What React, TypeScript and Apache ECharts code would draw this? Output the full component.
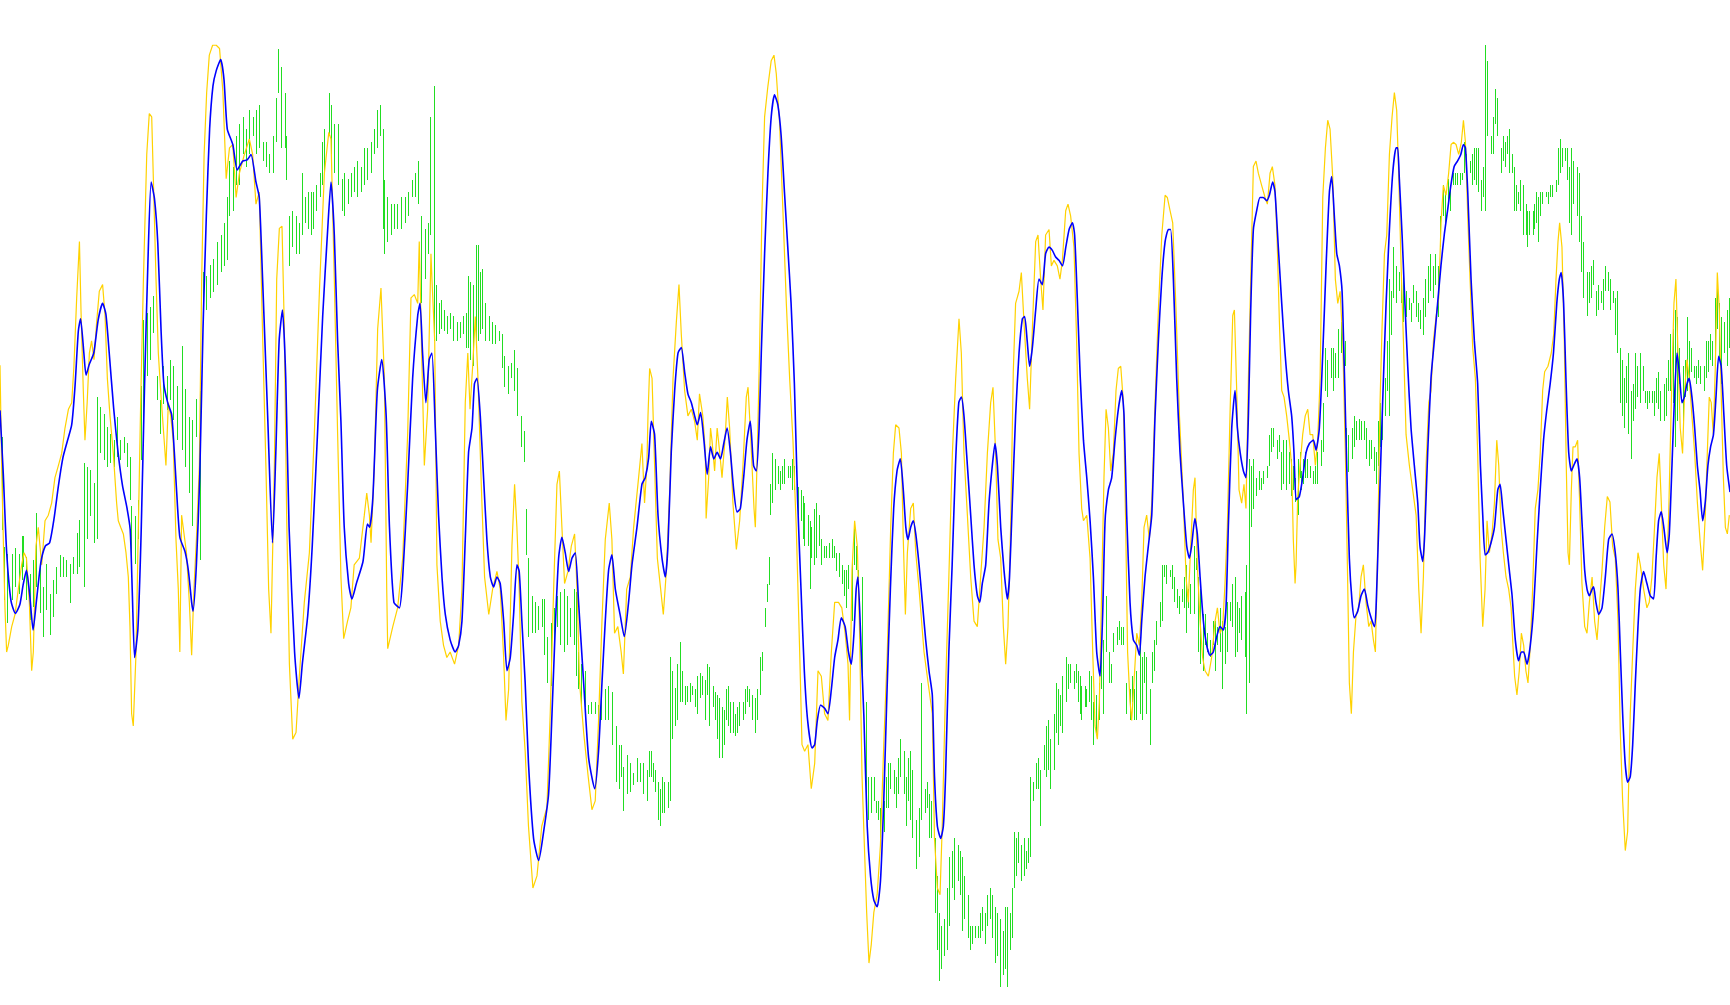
import React, { useEffect, useRef } from "react";
import * as echarts from "echarts";

// Time runs 0..1568 (bar units); value axis is a screen-depth scale 0..911 (inverted: smaller = higher).
const timeMax = 1568;
const valueMax = 911;

// Green high/low bars: [t, top, bottom]
const greenBars: number[][] = [
  [2,396,480],[4,496,544],[6,502,565],[11,502,544],[14,497,532],[17,502,538],[20,486,526],[21,486,514],[24,505,544],[27,520,562],[30,508,550],[33,465,532],[36,514,556],[39,532,577],[42,511,553],[45,538,576],[48,526,559],[51,514,538],[54,503,523],[57,505,523],[60,508,523],[63,511,547],[66,505,520],[70,483,520],[72,471,514],[76,420,532],[79,423,489],[82,426,468],[85,438,492],[88,360,489],[91,369,411],[94,375,417],[97,387,423],[100,393,420],[103,399,423],[106,378,414],[109,399,417],[112,396,411],[115,402,423],[118,414,453],[119,459,523],[122,468,511],[125,453,489],[128,350,417],[130,290,393],[133,284,341],[136,278,326],[139,268,302],[142,341,363],[145,363,393],[148,332,366],[151,341,372],[154,326,363],[157,332,381],[160,350,399],[165,314,408],[168,353,423],[171,378,447],[174,381,477],[178,362,396],[181,354,508],[184,247,290],[187,250,281],[190,240,270],[193,235,265],
  [197,219,258],[200,213,247],[203,202,241],[206,179,236],[208,146,196],[211,151,191],[214,123,168],[217,112,168],[220,106,140],[223,117,151],[226,100,140],[229,106,123],[232,100,140],[235,95,134],[238,129,146],[241,129,151],[244,140,157],[247,123,157],[250,89,129],[252,44,84],[255,61,134],[258,84,134],[259,123,163],[262,196,241],[265,191,224],[268,196,230],[271,202,230],[274,157,213],[276,179,202],[279,174,208],[282,174,213],[284,174,208],[286,168,191],[290,157,179],[292,129,168],[294,117,157],[298,84,123],[300,95,140],[303,112,157],[306,112,168],[310,162,191],[312,157,196],[315,162,185],[318,157,179],[321,151,174],[324,146,179],[327,151,174],[330,134,168],[333,134,163],[336,129,157],[339,117,140],[342,100,134],[344,95,123],[347,117,208],[348,163,230],[351,179,219],[354,185,213],[357,185,208],[360,185,208],[363,179,208],[367,179,202],[370,174,196],[373,163,179],[376,157,179],[379,146,185],[382,196,275],[385,208,253],[388,202,230],[390,106,213],
  [393,78,309],[395,258,309],[398,275,303],[400,272,298],[402,281,300],[405,286,303],[408,284,298],[411,286,309],[414,292,309],[417,292,306],[420,286,303],[422,284,315],[424,250,315],[426,256,326],[429,258,332],[431,222,315],[433,222,309],[435,247,303],[437,244,298],[440,275,309],[443,286,309],[446,292,312],[449,295,312],[452,300,309],[455,303,334],[457,323,351],[460,332,357],[463,329,343],[466,317,354],[469,334,377],[472,377,405],[475,391,419],[477,461,503],[479,506,577],[482,540,574],[485,546,574],[488,549,571],[491,543,568],[493,543,594],[496,577,619],[499,565,622],[502,551,591],[505,540,568],[508,537,585],[511,534,591],[514,540,585],[517,551,577],[520,534,585],[522,537,613],[524,591,625],[527,602,639],[530,608,641],[533,639,647],[536,636,647],[539,636,647],[542,639,656],[545,630,653],[548,625,653],[551,622,653],[555,627,675],[558,658,709],[561,675,715],[563,675,704],[565,695,735],[568,684,720],[571,692,718],[574,701,712],[577,687,709],[580,692,709],[583,692,720],[586,698,726],
  [588,681,704],[590,681,704],[592,692,709],[594,698,718],[596,709,743],[598,715,749],[600,704,737],[602,709,737],[605,709,732],[607,596,726],[609,608,670],[612,624,658],[614,602,653],[616,582,636],[618,608,636],[621,622,639],[623,622,636],[625,619,636],[627,622,630],[630,625,641],[632,613,647],[634,610,633],[636,613,630],[639,616,653],[641,602,630],[643,605,658],[646,622,641],[648,627,653],[650,630,670],[652,633,687],[654,641,687],[656,644,675],[658,625,653],[660,622,658],[662,636,664],[664,636,664],[666,647,667],[668,641,664],[670,636,658],[673,636,653],[675,625,647],[677,622,636],[679,625,641],[682,630,653],[684,633,664],[686,625,653],[689,596,630],[691,591,608],[693,551,568],[695,529,546],[697,505,530],[698,439,467],[700,411,456],[702,416,444],[705,422,439],[707,427,444],[709,422,439],[711,416,439],[714,422,433],[716,422,433],[718,416,444],[720,422,444],[723,441,467],[726,444,472],[728,450,489],[729,456,495],[732,467,495],[734,472,534],[735,478,506],[738,461,512],[740,456,506],[742,467,495],[744,489,512],[747,495,506],[749,495,506],[751,492,506],[754,489,506],[756,495,506],[758,501,518],[760,501,523],[763,512,529],[765,517,540],[767,517,551],[769,512,534],[772,506,563],[774,472,512],[776,495,517],[778,517,534],[781,523,625],
  [785,636,720],[787,704,743],[789,704,737],[792,704,726],[794,726,737],[796,726,743],[798,732,760],[801,726,754],[803,704,732],[805,692,732],[807,692,715],[810,698,720],[812,704,732],[814,687,720],[816,670,704],[819,681,720],[821,704,749],[823,687,726],[825,681,743],[827,698,760],[830,743,788],[833,732,777],[835,619,743],[838,715,737],[840,709,732],[842,720,760],[844,726,760],[847,760,828],[849,794,861],[851,828,889],[853,839,878],[856,833,867],[858,805,861],[860,777,839],[863,771,805],[865,760,816],[868,766,799],[870,771,811],[872,777,844],[874,794,833],[877,811,850],[879,839,861],[881,839,856],[884,839,850],[886,839,850],[888,828,850],[890,822,844],[893,828,856],[895,811,839],[897,805,833],[899,811,850],[902,822,873],[904,828,867],[906,833,895],[909,844,884],[911,822,878],[913,822,895],[915,828,861],[917,805,850],[919,754,805],[921,760,794],[923,754,782],[925,766,799],[928,760,794],[930,771,788],[932,760,782],[934,704,777],[936,709,726],[939,692,715],[941,687,715],[943,698,749],[946,675,698],[948,658,704],[950,653,698],[952,670,715],[955,647,698],[957,619,664],[959,625,675],[961,630,658],[963,613,664],[966,596,636],[968,602,625],[970,602,619],[973,608,625],[975,602,619],[977,608,636],[979,613,647],
  [980,622,653],[983,622,641],[984,625,641],[987,608,636],[989,613,653],[991,636,675],[993,630,664],[996,619,653],[998,591,625],[1000,580,647],[1002,540,591],[1005,591,619],[1007,602,619],[1009,574,591],[1012,568,585],[1014,563,580],[1016,568,585],[1018,568,585],[1021,619,647],[1024,625,653],[1026,613,636],[1028,625,653],[1030,608,653],[1033,580,647],[1035,596,653],[1037,591,619],[1039,596,647],[1042,625,675],[1044,591,619],[1046,580,608],[1048,563,585],[1051,546,568],[1053,512,563],[1055,512,523],[1057,512,529],[1060,517,523],[1062,512,534],[1064,523,546],[1067,534,551],[1069,540,557],[1071,534,546],[1073,523,551],[1075,512,574],[1077,534,551],[1079,529,557],[1082,495,557],[1084,506,517],[1086,523,591],[1088,534,602],[1090,557,608],[1092,557,585],[1094,574,591],[1097,580,596],[1099,563,585],[1101,563,608],[1103,568,585],[1106,551,591],[1108,563,625],[1110,568,602],[1112,546,591],[1115,546,563],[1117,529,568],[1119,523,596],[1121,546,591],[1123,551,574],[1125,540,580],[1128,537,596],[1129,512,647],[1132,416,619],[1134,422,478],[1136,416,461],[1138,433,450],[1141,427,444],[1143,433,444],[1145,427,439],[1148,422,433],[1150,394,422],[1152,388,410],[1154,388,405],[1157,399,416],[1159,394,410],[1161,410,444],[1163,399,439],[1166,399,444],[1168,410,439],[1170,416,450],[1172,422,444],[1174,433,455],
  [1176,416,467],[1178,410,433],[1179,427,444],[1181,416,439],[1183,410,433],[1185,416,433],[1187,422,433],[1190,427,439],[1192,422,439],[1194,410,439],[1197,399,422],[1199,365,410],[1201,315,354],[1203,326,360],[1206,315,343],[1208,315,354],[1210,320,343],[1213,298,343],[1215,292,320],[1217,298,332],[1219,309,332],[1220,388,422],[1222,394,428],[1225,388,416],[1227,377,405],[1229,382,399],[1232,380,399],[1234,382,399],[1236,382,399],[1238,388,416],[1241,399,422],[1243,399,416],[1245,405,427],[1247,410,439],[1249,382,422],[1251,365,405],[1253,360,399],[1255,343,377],[1257,309,354],[1259,253,377],[1261,264,304],[1263,224,270],[1265,241,275],[1268,247,264],[1270,253,275],[1272,241,292],[1274,264,287],[1277,270,281],[1279,275,292],[1281,258,275],[1283,264,287],[1285,275,292],[1287,281,298],[1290,270,304],[1292,253,287],[1294,241,275],[1296,230,264],[1299,241,270],[1301,230,258],[1303,241,287],[1305,196,224],[1308,168,196],[1310,174,202],[1312,162,185],[1314,168,191],[1317,157,168],[1319,157,168],[1321,157,168],[1323,157,168],[1325,157,163],[1327,129,157],[1329,140,163],[1332,146,157],[1334,140,168],[1336,134,163],[1338,134,168],[1340,134,174],[1342,163,191],[1344,151,179],[1346,41,191],[1348,55,123],[1351,123,140],[1353,106,140],[1355,81,112],[1357,89,123],[1360,134,157],[1362,123,146],[1364,129,151],[1366,123,140],[1368,117,157],[1370,140,157],
  [1372,151,191],[1374,168,191],[1376,174,185],[1378,163,191],[1380,168,213],[1383,185,213],[1384,191,224],[1386,191,213],[1389,191,213],[1390,185,208],[1392,174,202],[1394,179,219],[1396,174,196],[1398,174,185],[1401,174,179],[1403,174,185],[1405,168,179],[1407,168,179],[1410,163,174],[1412,134,168],[1414,126,157],[1416,134,151],[1418,134,146],[1420,134,163],[1422,151,202],[1424,134,213],[1426,146,185],[1429,151,196],[1431,157,219],[1433,196,247],[1435,219,270],[1438,247,286],[1440,247,275],[1442,241,270],[1444,236,258],[1447,264,286],[1448,258,281],[1451,264,275],[1453,253,281],[1455,241,264],[1457,247,264],[1459,253,281],[1462,264,275],[1464,270,304],[1466,264,320],[1468,315,365],[1470,326,377],[1472,343,388],[1474,332,365],[1476,320,393],[1478,354,416],[1480,348,382],[1482,320,371],[1484,332,360],[1486,320,365],[1489,332,354],[1491,354,365],[1493,354,371],[1495,354,365],[1497,354,365],[1499,354,377],[1501,343,365],[1503,337,371],[1505,354,382],[1508,348,382],[1510,343,377],[1512,326,354],[1514,303,354],[1516,298,365],[1518,281,405],[1520,287,382],[1522,315,348],[1525,332,382],[1527,326,360],[1529,287,354],[1531,309,343],[1533,315,337],[1535,332,343],[1537,332,348],[1539,326,343],[1541,332,348],[1544,332,354],[1546,309,343],[1548,309,337],[1550,303,326],[1552,309,332],[1554,270,332],[1556,253,298],[1558,275,326],[1560,287,348],[1563,292,320],[1565,281,332],[1567,270,315]
];

// Gold (fast) line: [t, value]
const goldLine: number[][] = [
  [0,331],[1.5,422],[3,489],[4.5,551],[6,591],[7.5,585],[10.6,568],[13.6,557],[16.6,534],[19.6,512],[21.8,501],[24,506],[26.6,546],[28.7,608],[30.2,591],[32.6,495],[34.7,478],[37.8,512],[40.8,472],[43.8,467],[46.8,456],[49.8,433],[52.9,422],[55.9,411],[58.9,388],[62,371],[65,365],[67,332],[69.5,270],[72,219],[73.4,281],[75.5,354],[77,399],[79,365],[81,320],[83,309],[85.2,326],[87.6,292],[90,264],[93,258],[95.2,286],[97.3,343],[99.7,377],[102.7,411],[105.7,456],[107.2,472],[109.4,478],[111.8,484],[114.2,501],[116.3,523],[117.8,568],[119.3,647],[120.8,658],[123.3,591],[125.4,478],[127.5,365],[130,253],[133,140],[135.3,103],[137.5,106],[139.6,185],[141.4,253],[143.5,320],[145.6,354],[148,388],[150.4,422],[152.6,365],[154.7,377],[157,399],[159.5,489],[161.6,534],[163,591],[164.6,467],[166.8,484],[169,501],[171.6,546],[173.7,594],[175.8,534],[178,489],[180.7,422],[182.8,253],[185,140],[187.3,84],[189.7,50],[192.7,41],
  [196,41],[199,44],[202,83],[205,162],[208,134],[211,131],[214,179],[217,157],[221.5,140],[226,126],[229,140],[232,185],[235,174],[238,303],[241,422],[243.5,534],[245.6,574],[248.7,422],[250.8,253],[253.2,207],[255.6,205],[257.7,298],[259.8,467],[262.3,602],[265.3,670],[268.3,664],[271.3,613],[275.8,546],[280.4,501],[284.9,393],[289.5,264],[294,157],[298,120],[300,126],[303,253],[306,393],[309,523],[311.5,579],[315,563],[318,551],[321,512],[325.7,506],[330.2,467],[332.4,447],[334.8,467],[336.3,492],[339.3,422],[342.3,298],[345.3,261],[348.4,343],[350.5,534],[351.4,588],[356,568],[360.4,551],[365,506],[369.5,393],[372.5,270],[375.5,267],[378.6,275],[380,219],[382.2,320],[384.6,422],[387.6,371],[390.6,230],
  [391.5,253],[394,309],[396,512],[399,563],[402,585],[405,596],[408,591],[412,602],[415.7,585],[418.7,534],[421.7,365],[424,320],[426,371],[428.4,332],[430.8,287],[433.2,343],[436.2,439],[439.2,523],[443,557],[446.5,534],[450.4,518],[453.4,534],[456.5,596],[458.6,653],[461,625],[464,495],[466.4,439],[468.5,478],[470.6,534],[473,636],[476,681],[479,749],[483,805],[486.7,794],[491,749],[495.7,732],[498.7,647],[501.8,534],[504.8,439],[507,427],[509.3,478],[511.7,529],[514.8,518],[517.8,495],[520.8,484],[523,534],[525.3,619],[529,664],[533,703],[536.5,734],[539.5,726],[542.5,653],[545.6,563],[548.6,489],[552.2,456],[554.6,489],[557,574],[560,568],[563,591],[565,611],[568,534],[571.3,523],[574.3,478],[578.8,433],[581.8,402],[584.2,456],[586.3,422],
  [587.3,377],[588.8,334],[591,343],[593.3,422],[595.8,506],[598.8,534],[601.2,557],[604,517],[607,444],[610,343],[613,292],[615.4,258],[617.5,303],[620.5,354],[623.5,377],[626.6,371],[629.6,382],[632,399],[634,357],[637,377],[639.3,410],[640,470],[642.3,433],[644,388],[645.3,399],[647.7,427],[650,388],[652.3,410],[654.4,433],[657.4,394],[659.2,360],[661.3,388],[664.3,456],[667.4,498],[670.4,472],[673.4,422],[676.4,360],[678,351],[680.3,394],[683.4,461],[684.6,478],[686.4,410],[688.5,315],[690.6,191],[693,106],[696,78],[699,55],[701.5,50],[703.6,67],[706.6,112],[709.6,191],[712.7,275],[715.7,343],[718.7,399],[721.7,478],[724.8,591],[726.9,675],[729.3,681],[732.3,675],[735.3,715],[738.4,692],[741.4,608],[744.4,613],[747.4,647],[750.4,653],[753.5,591],[756.5,546],[760,546],[763,551],[766,574],[768.6,602],[770,653],[772.2,517],[774.6,472],[777,495],[779,568],[781.3,703],
  [783,754],[785.5,827],[787.6,873],[789.7,856],[792,827],[795,811],[798,766],[801,675],[804.2,591],[807.3,478],[809.7,411],[811.8,385],[814.8,388],[817,411],[818.7,489],[820.6,557],[822.4,501],[825.4,461],[827.8,456],[830,501],[833,534],[837.5,591],[842,625],[845,647],[847,760],[849.6,805],[852,811],[854,749],[857,625],[860,523],[863.2,411],[866.2,343],[869.2,289],[871.3,320],[873.7,411],[876.8,467],[879.8,523],[882.8,563],[885.8,568],[888.8,523],[891.9,478],[894.9,411],[897.9,365],[900,351],[902.4,411],[904.5,489],[907,506],[909.4,568],[911.5,602],[913.6,568],[916,478],[918.4,337],[920.5,275],[923.6,264],[925.7,247],[928.1,292],[931.1,343],[933.2,371],[935.7,298],[938.7,219],[940.8,213],[943.2,253],[945.3,281],[947.7,213],[950.8,208],[952.9,241],[955.3,236],[958.3,241],[960.7,253],[962.9,236],[965.9,191],[968,185],[970.4,196],[973.4,224],[975.8,309],[978,411],
  [980.4,461],[982,472],[985,467],[988,506],[990.4,591],[992.5,658],[994.6,670],[996.4,636],[998.5,534],[1000.6,433],[1002.5,371],[1004.6,388],[1006.7,427],[1009.1,410],[1011.5,354],[1013.6,334],[1015.8,332],[1018.2,365],[1020.3,478],[1022,591],[1024.2,636],[1025.7,653],[1027.8,619],[1030.3,574],[1032.7,585],[1034.8,546],[1036.9,478],[1039.3,467],[1041.7,489],[1043.9,456],[1046.9,365],[1049.9,281],[1053,213],[1056,177],[1058,179],[1060.5,191],[1062.9,202],[1065.9,281],[1069,377],[1072.6,456],[1075,523],[1077,546],[1079.2,495],[1081.6,444],[1083.1,433],[1085.2,512],[1087.7,563],[1090,596],[1092.2,608],[1095.2,613],[1098.2,596],[1101.3,563],[1103.4,551],[1105.8,574],[1108.2,568],[1110.3,529],[1112.4,478],[1114.8,377],[1117.3,286],[1118.8,281],[1120.9,354],[1123,444],[1125.4,456],[1127.5,439],[1129.3,461],[1131.5,343],[1133.6,253],[1136,151],[1138.4,146],[1140.5,157],[1143.5,168],[1146.6,179],[1148.7,185],[1151.1,157],[1153.2,151],[1155.6,168],[1157.7,224],[1159.6,292],[1161.7,354],[1163.8,360],[1166.2,377],[1168.6,399],[1170.7,422],[1172.2,489],[1173.8,529],
  [1174.7,512],[1176.2,450],[1178.3,422],[1180.7,394],[1183,377],[1185.3,371],[1187.4,394],[1189.8,394],[1192.2,422],[1194.3,399],[1196.5,343],[1198.9,179],[1201.3,134],[1203.4,109],[1205.5,117],[1208,162],[1210.3,253],[1212.5,275],[1214.6,264],[1217,309],[1219.4,411],[1221.5,529],[1223,619],[1224.8,647],[1226.7,591],[1229.1,557],[1231.5,551],[1233.6,523],[1235.7,512],[1238.1,546],[1240.6,568],[1242.7,563],[1244.8,580],[1246.6,591],[1248.7,495],[1250.8,365],[1252.6,298],[1254.8,230],[1256.9,213],[1259.3,140],[1261.7,106],[1263.8,84],[1265.9,100],[1267.7,157],[1269.9,241],[1272,309],[1274.4,394],[1277.4,422],[1280.4,444],[1283.5,467],[1285.9,534],[1288,574],[1290.1,523],[1292.5,422],[1295,365],[1297,354],[1299.2,309],[1301.6,287],[1304,270],[1306.1,202],[1308.2,168],[1310.6,177],[1313,157],[1315.2,131],[1317.3,129],[1319.7,131],[1322.1,140],[1324.5,129],[1326.4,109],[1328.2,129],[1330.3,196],[1332.4,253],[1334.8,315],[1337.2,343],[1339.3,411],[1341.5,506],[1343.9,568],[1346,534],[1347.8,472],[1349.9,501],[1352.3,484],[1354.5,456],[1356.6,399],[1358.4,422],[1360.5,478],[1362.6,501],[1365,523],[1367.4,534],[1369.6,551],
  [1371,580],[1372.8,613],[1374.9,630],[1377,608],[1378.9,574],[1381,585],[1383,608],[1384.9,619],[1387,585],[1389.1,534],[1391.5,461],[1393.9,444],[1396,411],[1398.2,354],[1400,337],[1403,332],[1406,320],[1408.2,303],[1410.3,253],[1412.1,219],[1413.6,202],[1415.7,224],[1417.8,309],[1419.6,422],[1421.2,501],[1422.4,512],[1424.2,444],[1425.7,405],[1427.8,405],[1429.9,399],[1431.7,455],[1433.8,529],[1436.3,568],[1438.4,574],[1440.5,546],[1443,523],[1445.3,563],[1447.5,580],[1449.5,551],[1452,517],[1454.4,478],[1456.8,450],[1459.2,455],[1461.6,495],[1464,506],[1466.5,563],[1468.6,664],[1470.7,726],[1473.1,771],[1475.2,754],[1477.6,647],[1479.8,591],[1482.2,534],[1484.6,501],[1486.7,512],[1489.7,534],[1492.7,551],[1494.8,546],[1497.2,523],[1499.6,478],[1501.8,433],[1503.9,411],[1505.7,455],[1507.9,512],[1510,534],[1512.4,467],[1514.8,365],[1517.2,275],[1519,253],[1520.8,320],[1522.9,388],[1525,411],[1526.9,354],[1529,326],[1531.1,343],[1533.5,377],[1536,411],[1538.4,455],[1540.8,489],[1543.2,517],[1545.6,467],[1547.4,411],[1549.2,360],[1551,365],[1552.9,394],[1554.7,332],[1556.5,247],[1558.3,281],[1560.1,360],[1562,433],[1563.8,478],[1565.6,484],[1567.4,467]
];

// Blue (slow, smooth) line: [t, value]
const blueLine: number[][] = [
  [0,372],[3,430],[6,500],[10,545],[14,556],[18,548],[21,530],[24,517],[27,540],[30,571],[33,545],[37,510],[41,495],[45,492],[49,470],[53,440],[57,415],[61,400],[65,385],[68,350],[71,300],[73,289],[76,320],[78,340],[81,330],[85,320],[89,290],[93,275],[96,285],[99,320],[103,370],[107,410],[111,440],[115,460],[118,480],[120,540],[122,596],[125,570],[128,480],[131,350],[134,240],[137,165],[140,180],[143,220],[146,300],[148.5,348],[152,365],[155.6,376],[158,410],[160,444],[163,487],[167.7,500],[170.7,517],[173.7,546],[175,554],[178,512],[181,433],[184,298],[187,196],[190,117],[193,78],[196,64],
  [200,54],[203,72],[206,117],[211,131],[215,154],[220,146],[224,145],[227.5,140],[232,165],[235,179],[238,253],[242.6,377],[247,492],[250,410],[253,309],[256,281],[259,343],[262,478],[267,591],[271,633],[274,602],[279,557],[283,495],[288,388],[292.5,286],[297,208],[300,165],[303,213],[306,309],[309,382],[312,478],[316,529],[319,543],[323,529],[329,509],[333,475],[335,478],[338,450],[342,354],[346,326],[350,377],[353,478],[357,546],[362,551],[365,523],[369.5,439],[374,343],[378.6,286],[380.7,275],[383,320],[386,365],[389,326],[391.5,320],
  [394.5,388],[397.5,467],[400.6,523],[403.6,557],[408,580],[412.6,591],[415.7,585],[418.7,563],[421.7,489],[424.7,410],[427.8,388],[430,348],[432.3,343],[435.3,377],[438.3,433],[441.3,489],[444.4,523],[447.4,532],[450.4,523],[453.4,529],[456.5,563],[459.5,608],[462.5,596],[465.5,557],[468.5,512],[470.6,518],[473,563],[476,619],[479,692],[483.6,760],[488.2,780],[492.7,754],[497.2,720],[500.3,647],[503.3,568],[506.3,506],[509.3,487],[512.3,501],[515.4,518],[518.4,506],[521.4,501],[524.4,546],[529,619],[533.5,687],[539,715],[542.5,681],[545.6,619],[548.6,563],[551.6,517],[554.6,503],[557.7,534],[562,557],[565.8,577],[569.7,546],[572.8,512],[577.3,478],[581.8,439],[584.8,433],[587.9,415],
  [590.3,382],[593.3,394],[596.4,467],[600,506],[603,523],[605.4,495],[608.4,410],[611.5,354],[614.5,320],[617.5,315],[620.5,337],[623.5,357],[626.6,365],[629.6,377],[632,385],[635,374],[638,399],[641,430],[644,405],[647,416],[650,410],[653,416],[656,402],[659,388],[662,410],[665,444],[668,464],[671,461],[674,433],[677,399],[680,382],[683,422],[685.5,427],[688,388],[690,320],[693,230],[696,157],[699,106],[702,86],[705,95],[708,123],[711,174],[714,224],[717,275],[720,348],[723,456],[726,534],[729,608],[732,653],[736,678],[738.4,675],[740.8,653],[743.8,639],[747.4,642],[750.4,647],[753.5,625],[756.5,596],[759.5,580],[762.5,560],[766,568],[769,591],[771.6,602],[774,574],[776,534],[777.6,523],[780.6,591],[783,650],
  [786,749],[789,794],[792,816],[795,822],[798,799],[801,726],[804,625],[807,534],[810,461],[813,427],[816,416],[818.7,444],[821,478],[823,489],[825.4,478],[827.8,472],[830,484],[833,512],[836,546],[839,580],[842,608],[845,630],[847,704],[849.6,749],[852.6,760],[855,749],[857,704],[860,591],[863,512],[866,422],[869,365],[871.3,360],[873.7,377],[876.8,422],[879.8,467],[882.8,512],[885.8,540],[888,546],[890.3,529],[893.4,512],[896.4,456],[899.4,422],[901.8,402],[904,422],[907,478],[910,517],[913,543],[915,523],[917.5,456],[920.5,377],[923.6,320],[926.6,289],[928.7,287],[931,309],[933.2,332],[935.7,315],[938.7,281],[941.7,253],[944.7,258],[947.7,230],[950.8,224],[953.8,227],[956.8,233],[959.8,236],[963,241],[966,224],[969,208],[972,202],[974,213],[976.4,270],[979,340],
  [982,399],[985,433],[988,472],[991,523],[994,591],[997,613],[999.4,557],[1001.6,472],[1004.6,444],[1007.6,433],[1010.6,399],[1013.6,371],[1016.7,354],[1018.8,377],[1021.2,467],[1024.2,546],[1027.2,580],[1030.3,585],[1032.7,594],[1034.8,563],[1037.8,523],[1040.8,495],[1043.9,467],[1046.9,377],[1049.9,309],[1053,253],[1056,219],[1059,208],[1061,208],[1063.5,253],[1066.5,343],[1069.5,410],[1072.6,456],[1075.6,495],[1078,506],[1080,495],[1083,470],[1085.2,484],[1087.7,523],[1090.7,563],[1093.7,585],[1096.7,594],[1099.7,591],[1102.8,577],[1105.8,568],[1108.8,571],[1111.2,551],[1113.3,478],[1116.4,388],[1119.4,354],[1121.5,388],[1124,410],[1127,427],[1129.3,433],[1131.5,377],[1133.6,281],[1136,208],[1139,191],[1142,179],[1145,179],[1148,182],[1150.5,177],[1153.5,165],[1155.6,174],[1158.6,224],[1161.7,275],[1164.7,320],[1167.7,354],[1170.7,377],[1172.8,410],[1174.7,453],
  [1177.7,450],[1180.7,433],[1183.8,410],[1186.8,402],[1190.4,399],[1192.8,408],[1195.8,388],[1198.9,320],[1201.9,241],[1204.9,174],[1207,160],[1209.4,196],[1211.6,230],[1214,241],[1216.4,264],[1218.5,337],[1220.6,422],[1223,506],[1225.5,546],[1227.6,560],[1230.6,554],[1233.6,540],[1236.6,534],[1239.7,549],[1242.7,560],[1245.7,568],[1247.2,551],[1249.6,478],[1251.7,410],[1253.9,343],[1256.3,275],[1259.3,208],[1262.3,157],[1265.3,134],[1266.8,134],[1268.3,162],[1270.8,213],[1272.9,264],[1275.9,332],[1278.9,388],[1281.9,422],[1285,456],[1287,495],[1289.5,509],[1291.3,484],[1294,410],[1297,343],[1300,309],[1303,275],[1306,241],[1309,213],[1312,191],[1315,168],[1318,151],[1321,146],[1324,140],[1326.4,131],[1328.2,134],[1330.3,174],[1333.3,253],[1336.3,309],[1339.3,348],[1341.8,422],[1343.9,467],[1346,503],[1348.4,501],[1351.4,492],[1354.5,478],[1357.5,444],[1359.6,439],[1362,461],[1365,489],[1368,517],[1370.5,540],
  [1373.4,580],[1376.4,599],[1378.9,591],[1381,591],[1384,602],[1387,585],[1390,551],[1393,495],[1396,444],[1399,399],[1402,371],[1405,348],[1408,320],[1411,275],[1413.3,253],[1415,247],[1417.2,275],[1419.3,343],[1421.8,410],[1424.2,427],[1426.3,422],[1429.3,416],[1431.7,433],[1433.8,472],[1436.3,517],[1438.4,534],[1440.5,540],[1443,534],[1444.4,532],[1446.5,546],[1449,557],[1452,551],[1455,523],[1458,489],[1461,484],[1464,501],[1466.5,534],[1468.6,591],[1470.7,647],[1473,692],[1475.2,709],[1477.6,704],[1479.8,675],[1482.2,619],[1484.6,568],[1486.7,534],[1489.7,518],[1492.7,529],[1495.7,540],[1498.8,543],[1501,506],[1503.3,472],[1505.7,464],[1508,478],[1511,501],[1513,484],[1515.4,422],[1517.5,365],[1520,320],[1522,337],[1524.5,365],[1526.6,360],[1529,348],[1531,343],[1533.5,360],[1536,388],[1538.4,422],[1540.8,444],[1543.2,472],[1545.6,455],[1548,422],[1550.4,405],[1553,394],[1555.3,360],[1557.7,323],[1560,332],[1562.5,377],[1565,422],[1568,446]
];

const GREEN = "#22dd22";
const GOLD = "#ffd200";
const BLUE = "#0000ff";

export default function App() {
  const ref = useRef<HTMLDivElement>(null);

  useEffect(() => {
    document.body.style.margin = "0";
    document.body.style.overflow = "hidden";
    if (!ref.current) return;
    const chart = echarts.init(ref.current, null, { renderer: "svg" });
    chart.setOption({
      animation: false,
      backgroundColor: "#ffffff",
      grid: { left: 0, right: 0, top: 0, bottom: 0 },
      xAxis: { type: "value", min: 0, max: timeMax, show: false },
      yAxis: { type: "value", min: 0, max: valueMax, inverse: true, show: false },
      tooltip: { show: false },
      series: [
        {
          type: "custom",
          name: "range",
          z: 1,
          silent: true,
          encode: { x: 0, y: [1, 2] },
          data: greenBars,
          renderItem: (params: any, api: any) => {
            const a = api.coord([api.value(0), api.value(1)]);
            const b = api.coord([api.value(0), api.value(2)]);
            const x = Math.round(a[0]) + 0.5;
            return {
              type: "line",
              shape: { x1: x, y1: Math.round(a[1]), x2: x, y2: Math.round(b[1]) },
              style: { stroke: GREEN, lineWidth: 1 },
            };
          },
        },
        {
          type: "line",
          name: "fast",
          z: 2,
          silent: true,
          data: goldLine,
          showSymbol: false,
          symbol: "none",
          lineStyle: { color: GOLD, width: 1.2 },
        },
        {
          type: "line",
          name: "slow",
          z: 3,
          silent: true,
          data: blueLine,
          showSymbol: false,
          symbol: "none",
          smooth: 0.2,
          lineStyle: { color: BLUE, width: 1.6 },
        },
      ],
    });
    return () => chart.dispose();
  }, []);

  return (
    <div
      ref={ref}
      style={{
        position: "absolute",
        left: 0,
        top: 0,
        width: 1730,
        height: 1005,
        background: "#ffffff",
      }}
    />
  );
}
